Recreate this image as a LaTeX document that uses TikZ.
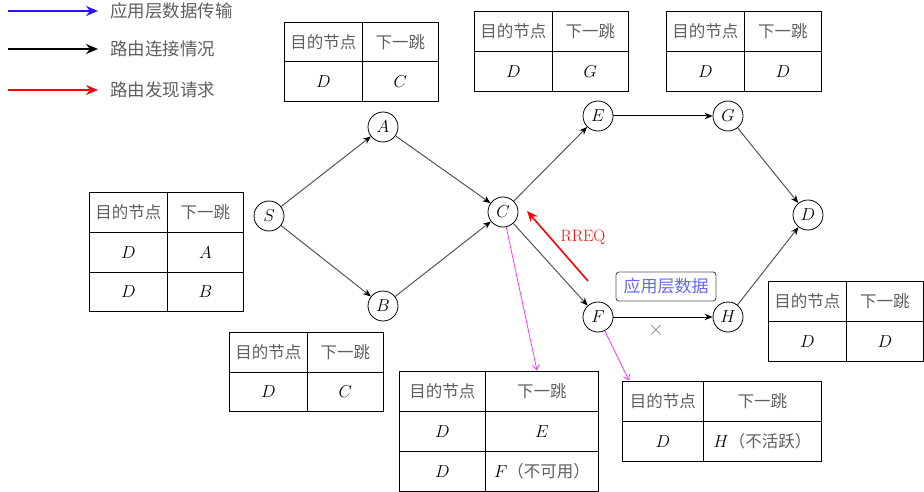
\documentclass[tikz,border=0pt]{standalone}
\usepackage{fontspec}
\newfontfamily\zh{Noto Sans CJK SC}
\usetikzlibrary{arrows.meta}
\definecolor{edgegray}{RGB}{85,85,85}
\definecolor{txtgray}{RGB}{95,95,95}
\definecolor{appblue}{RGB}{102,102,255}
\definecolor{legblue}{RGB}{40,20,255}
\definecolor{mag}{RGB}{255,51,255}
\newcommand\hA{{\zh\color{txtgray}目的节点}}
\newcommand\hB{{\zh\color{txtgray}下一跳}}
\newcommand\trow[8]{%
  \node[cell,minimum width=#4 pt,minimum height=#6 pt] (#1a) at (#2,#3) {#7};
  \node[cell,minimum width=#5 pt,minimum height=#6 pt] (#1b) at (#2+#4,#3) {#8};}
\begin{document}
\begin{tikzpicture}[x=1pt,y=-1pt,
  vtx/.style={circle,draw,line width=0.8pt,minimum size=30pt,inner sep=0pt,font=\fontsize{17}{17}\selectfont},
  cell/.style={draw,line width=0.8pt,anchor=north west,inner sep=0pt,font=\fontsize{16.5}{16.5}\selectfont},
  edge/.style={draw=edgegray,line width=1pt,-{Stealth[black,length=8pt,width=6.5pt]}},
  bedge/.style={draw=black,line width=1pt,-{Stealth[black,length=8pt,width=6.5pt]}},
  magarrow/.style={draw=mag,line width=0.8pt,-{Straight Barb[length=5pt,width=7pt]}},
  legarrow/.style={line width=1.6pt,-{Stealth[length=12pt,width=10pt]}},
  legtext/.style={anchor=west,inner sep=0pt,text=txtgray,font=\zh\fontsize{17.5}{17.5}\selectfont}]
\useasboundingbox (0,0) rectangle (924,492);

% legend
\coordinate (l1s) at (8,11); \coordinate (l1e) at (98,11);
\coordinate (l2s) at (8,49); \coordinate (l2e) at (98,49);
\coordinate (l3s) at (8,90); \coordinate (l3e) at (98,90);
\draw[legarrow,legblue] (l1s) -- (l1e);
\draw[legarrow,black] (l2s) -- (l2e);
\draw[legarrow,red] (l3s) -- (l3e);
\node[legtext] (lt1) at (110,11) {应用层数据传输};
\node[legtext] (lt2) at (110,49) {路由连接情况};
\node[legtext] (lt3) at (110,90) {路由发现请求};

% vertices
\node[vtx] (S) at (269,216) {$S$};
\node[vtx] (A) at (383,127) {$A$};
\node[vtx] (B) at (383,306) {$B$};
\node[vtx] (C) at (503,212) {$C$};
\node[vtx] (E) at (598,116) {$E$};
\node[vtx] (F) at (598,317) {$F$};
\node[vtx] (G) at (728,116) {$G$};
\node[vtx] (H) at (728,317) {$H$};
\node[vtx] (D) at (808,215) {$D$};

% edges
\draw[edge] (S) -- (A);
\draw[edge] (S) -- (B);
\draw[edge] (A) -- (C);
\draw[edge] (B) -- (C);
\draw[edge] (C) -- (E);
\draw[edge] (C) -- (F);
\draw[edge] (G) -- (D);
\draw[edge] (H) -- (D);
\draw[bedge] (E) -- (G);
\draw[bedge] (F) -- (H);

% RREQ
\coordinate (r1) at (588,281); \coordinate (r2) at (527,211);
\draw[red,line width=1.6pt,-{Stealth[length=11pt,width=9pt]}] (r1) -- (r2);
\node[text=red,font=\fontsize{16.5}{16.5}\selectfont] (rreq) at (583,237) {RREQ};

% application data box
\node[draw=edgegray,rounded corners=3pt,line width=0.9pt,minimum width=100pt,minimum height=29pt,inner sep=0pt,text=appblue,font=\zh\fontsize{17}{17}\selectfont] (app) at (666,286.5) {应用层数据};
\node[text=gray,inner sep=0pt,font=\fontsize{22}{22}\selectfont] (cross) at (656,330) {$\times$};

% tables
\trow{ta0}{284}{22}{78}{76}{39.5}{\hA}{\hB}
\trow{ta1}{284}{61.5}{78}{76}{39.5}{$D$}{$C$}

\trow{te0}{474}{11}{78}{76}{40}{\hA}{\hB}
\trow{te1}{474}{51}{78}{76}{40}{$D$}{$G$}

\trow{tg0}{666}{11}{78}{77}{40}{\hA}{\hB}
\trow{tg1}{666}{51}{78}{77}{40}{$D$}{$D$}

\trow{ts0}{89}{192}{78}{76}{40}{\hA}{\hB}
\trow{ts1}{89}{232}{78}{76}{40}{$D$}{$A$}
\trow{ts2}{89}{272}{78}{76}{39}{$D$}{$B$}

\trow{tb0}{229}{332}{78}{76}{39.5}{\hA}{\hB}
\trow{tb1}{229}{371.5}{78}{76}{39.5}{$D$}{$C$}

\trow{tc0}{399}{371}{86}{113}{40}{\hA}{\hB}
\trow{tc1}{399}{411}{86}{113}{40}{$D$}{$E$}
\trow{tc2}{399}{451}{86}{113}{40}{$D$}{$F${\zh\color{txtgray}（不可用）}}

\trow{tf0}{622}{381}{81}{118}{40}{\hA}{\hB}
\trow{tf1}{622}{421}{81}{118}{40}{$D$}{$H${\zh\color{txtgray}（不活跃）}}

\trow{td0}{768}{281}{78}{77}{40}{\hA}{\hB}
\trow{td1}{768}{321}{78}{77}{40}{$D$}{$D$}

% magenta arrows
\coordinate (cm) at (537,370.5);
\coordinate (fm) at (629,380.5);
\draw[magarrow] (C) -- (cm);
\draw[magarrow] (F) -- (fm);
\end{tikzpicture}
\end{document}
